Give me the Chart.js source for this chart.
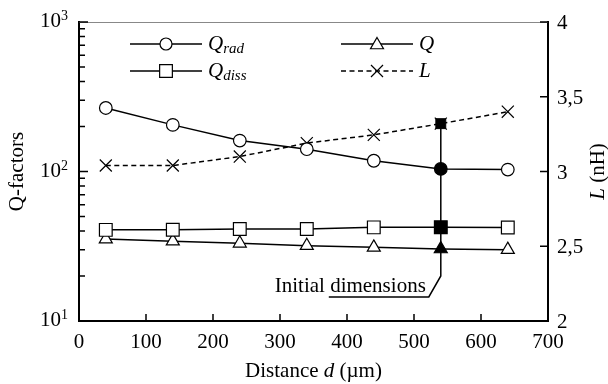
<!DOCTYPE html>
<html>
<head>
<meta charset="utf-8">
<script src="https://cdn.jsdelivr.net/npm/chart.js@4"></script>
<style>
  html, body { margin: 0; padding: 0; background: #fff; }
</style>
</head>
<body>
<canvas id="qChart" width="608" height="384"></canvas>
<script>
// data
var distances = [40, 140, 240, 340, 440, 540, 640];
var qRad = [266, 205, 161, 141, 118, 104, 103];
var qDiss = [40.7, 40.8, 41.2, 41.2, 42.3, 42.4, 42.2];
var qTotal = [35.3, 34.2, 33.1, 31.9, 31.1, 30.3, 30.0];
var inductance = [3.04, 3.04, 3.10, 3.19, 3.245, 3.32, 3.40];
var initialIndex = 5; // the "initial dimensions" design

var xTicks = [0, 100, 200, 300, 400, 500, 600, 700];
var qMajorTicks = [10, 100, 1000];
var qExponents = ['1', '2', '3'];
var lTicks = [2, 2.5, 3, 3.5, 4];
var lTickLabels = ['2', '2,5', '3', '3,5', '4'];

var serif = '"Liberation Serif", "DejaVu Serif", serif';

function pts(ys) {
    return distances.map(function (d, i) { return { x: d, y: ys[i] }; });
}
function fills(n) {
    return distances.map(function (d, i) { return i === n ? '#000' : '#fff'; });
}

var qMinorTicks = [];
qMajorTicks.slice(0, -1).forEach(function (p) {
    for (var k = 2; k <= 9; k++) qMinorTicks.push(p * k);
});

var decor = {
    id: 'decor',
    beforeDatasetsDraw: function (chart) {
        var ctx = chart.ctx, a = chart.chartArea;
        var x = chart.scales.x, y = chart.scales.y, y1 = chart.scales.y1;
        ctx.save();
        // top frame line
        ctx.strokeStyle = '#888';
        ctx.lineWidth = 1;
        ctx.beginPath();
        ctx.moveTo(a.left, a.top + 0.5);
        ctx.lineTo(a.right, a.top + 0.5);
        ctx.stroke();
        // initial dimensions leader
        var xp = x.getPixelForValue(distances[initialIndex]);
        var yTop = y1.getPixelForValue(inductance[initialIndex]);
        var yBot = y.getPixelForValue(20);
        ctx.strokeStyle = '#000';
        ctx.lineWidth = 1.5;
        ctx.beginPath();
        ctx.moveTo(xp, yTop);
        ctx.lineTo(xp, yBot);
        ctx.lineTo(xp - 12, yBot + 21);
        ctx.lineTo(xp - 112, yBot + 21);
        ctx.stroke();
        ctx.fillStyle = '#000';
        ctx.font = '21px ' + serif;
        ctx.textAlign = 'right';
        ctx.textBaseline = 'alphabetic';
        ctx.fillText('Initial dimensions', xp - 15, yBot + 16);
        ctx.restore();
    },
    afterDraw: function (chart) {
        var ctx = chart.ctx, a = chart.chartArea;
        var x = chart.scales.x, y = chart.scales.y, y1 = chart.scales.y1;
        ctx.save();
        ctx.strokeStyle = '#000';
        ctx.fillStyle = '#000';
        ctx.lineWidth = 1.5;
        // inward ticks
        ctx.beginPath();
        xTicks.forEach(function (v) {
            var p = x.getPixelForValue(v);
            ctx.moveTo(p, a.bottom); ctx.lineTo(p, a.bottom - 7);
        });
        qMajorTicks.forEach(function (v) {
            var p = y.getPixelForValue(v);
            ctx.moveTo(a.left, p); ctx.lineTo(a.left + 9, p);
        });
        qMinorTicks.forEach(function (v) {
            var p = y.getPixelForValue(v);
            ctx.moveTo(a.left, p); ctx.lineTo(a.left + 6, p);
        });
        lTicks.forEach(function (v) {
            var p = y1.getPixelForValue(v);
            ctx.moveTo(a.right, p); ctx.lineTo(a.right - 8, p);
        });
        ctx.stroke();

        // tick labels
        ctx.font = '21px ' + serif;
        ctx.textBaseline = 'alphabetic';
        ctx.textAlign = 'center';
        xTicks.forEach(function (v) {
            ctx.fillText(String(v), x.getPixelForValue(v), a.bottom + 27);
        });
        qMajorTicks.forEach(function (v, i) {
            var p = y.getPixelForValue(v);
            ctx.font = '14px ' + serif;
            ctx.textAlign = 'left';
            ctx.fillText(qExponents[i], a.left - 18, p - 2);
            ctx.font = '21px ' + serif;
            ctx.textAlign = 'right';
            ctx.fillText('10', a.left - 18, p + 5);
        });
        ctx.textAlign = 'left';
        lTicks.forEach(function (v, i) {
            ctx.fillText(lTickLabels[i], a.right + 9, y1.getPixelForValue(v) + 7);
        });

        // axis titles
        var cy = (a.top + a.bottom) / 2;
        var cx = (a.left + a.right) / 2;
        ctx.textAlign = 'left';
        var t1 = 'Distance ', t2 = 'd', t3 = ' (\u00b5m)';
        ctx.font = '21px ' + serif;
        var w1 = ctx.measureText(t1).width, w3 = ctx.measureText(t3).width;
        ctx.font = 'italic 21px ' + serif;
        var w2 = ctx.measureText(t2).width;
        var sx = cx - (w1 + w2 + w3) / 2;
        ctx.font = '21px ' + serif;
        ctx.fillText(t1, sx, 377);
        ctx.font = 'italic 21px ' + serif;
        ctx.fillText(t2, sx + w1, 377);
        ctx.font = '21px ' + serif;
        ctx.fillText(t3, sx + w1 + w2, 377);

        ctx.save();
        ctx.translate(23, cy);
        ctx.rotate(-Math.PI / 2);
        ctx.textAlign = 'center';
        ctx.font = '21px ' + serif;
        ctx.fillText('Q-factors', 0, 0);
        ctx.restore();

        ctx.save();
        ctx.translate(604, cy);
        ctx.rotate(-Math.PI / 2);
        ctx.font = 'italic 21px ' + serif;
        var lw = ctx.measureText('L').width;
        ctx.font = '21px ' + serif;
        var rw = ctx.measureText(' (nH)').width;
        ctx.font = 'italic 21px ' + serif;
        ctx.textAlign = 'left';
        ctx.fillText('L', -(lw + rw) / 2, 0);
        ctx.font = '21px ' + serif;
        ctx.fillText(' (nH)', -(lw + rw) / 2 + lw, 0);
        ctx.restore();

        // legend
        var rows = [a.top + 22, a.top + 49];
        var cols = [a.left + 51, a.left + 262];
        var items = [
            { c: 0, r: 0, style: 'circle', radius: 6, dash: [], name: 'Q', sub: 'rad' },
            { c: 0, r: 1, style: 'rect', radius: 9, dash: [], name: 'Q', sub: 'diss' },
            { c: 1, r: 0, style: 'triangle', radius: 7.5, dash: [], name: 'Q', sub: '' },
            { c: 1, r: 1, style: 'crossRot', radius: 8.5, dash: [5, 3.5], name: 'L', sub: '' }
        ];
        items.forEach(function (it) {
            var lx = cols[it.c], ly = rows[it.r];
            ctx.setLineDash(it.dash);
            ctx.lineWidth = 1.5;
            ctx.beginPath();
            ctx.moveTo(lx, ly); ctx.lineTo(lx + 72, ly);
            ctx.stroke();
            ctx.setLineDash([]);
            ctx.fillStyle = '#fff';
            ctx.lineWidth = 1.2;
            Chart.helpers.drawPoint(ctx, { pointStyle: it.style, radius: it.radius, rotation: 0, borderWidth: 1.2 }, lx + 36, ly + (it.style === 'triangle' ? 1 : 0));
            ctx.fillStyle = '#000';
            ctx.font = 'italic 21px ' + serif;
            ctx.textAlign = 'left';
            ctx.fillText(it.name, lx + 78, ly + 6);
            if (it.sub) {
                var nw = ctx.measureText(it.name).width;
                ctx.font = 'italic 15px ' + serif;
                ctx.fillText(it.sub, lx + 78 + nw, ly + 9);
            }
        });
        ctx.restore();
    }
};

var ctx = document.getElementById('qChart').getContext('2d');
var qChart = new Chart(ctx, {
    type: 'line',
    data: {
        datasets: [{
            label: 'initial L',
            data: [{ x: distances[initialIndex], y: inductance[initialIndex] }],
            yAxisID: 'y1',
            showLine: false,
            pointStyle: 'rect',
            pointRadius: 7,
            pointBackgroundColor: '#000',
            pointBorderColor: '#000',
            pointBorderWidth: 1
        }, {
            label: 'Q_rad',
            data: pts(qRad),
            yAxisID: 'y',
            borderColor: '#000',
            borderWidth: 1.5,
            pointStyle: 'circle',
            pointRadius: 6.3,
            pointBorderWidth: 1.2,
            pointBorderColor: '#000',
            pointBackgroundColor: fills(initialIndex)
        }, {
            label: 'Q_diss',
            data: pts(qDiss),
            yAxisID: 'y',
            borderColor: '#000',
            borderWidth: 1.5,
            pointStyle: 'rect',
            pointRadius: 9,
            pointBorderWidth: 1.2,
            pointBorderColor: '#000',
            pointBackgroundColor: fills(initialIndex)
        }, {
            label: 'Q',
            data: pts(qTotal),
            yAxisID: 'y',
            borderColor: '#000',
            borderWidth: 1.5,
            pointStyle: 'triangle',
            pointRadius: 7.5,
            pointBorderWidth: 1.2,
            pointBorderColor: '#000',
            pointBackgroundColor: fills(initialIndex)
        }, {
            label: 'L',
            data: pts(inductance),
            yAxisID: 'y1',
            borderColor: '#000',
            borderWidth: 1.5,
            borderDash: [5, 3.5],
            pointStyle: 'crossRot',
            pointRadius: 8.5,
            pointBorderWidth: 1.2,
            pointBorderColor: '#000'
        }]
    },
    options: {
        responsive: false,
        animation: false,
        devicePixelRatio: 1,
        layout: { padding: { top: 22, left: 0, right: 0, bottom: 0 } },
        plugins: { legend: { display: false }, tooltip: { enabled: false } },
        elements: { line: { tension: 0 } },
        scales: {
            x: {
                type: 'linear',
                position: 'bottom',
                min: 0,
                max: 700,
                ticks: { display: false },
                grid: { drawOnChartArea: false, drawTicks: false },
                border: { display: true, color: '#000', width: 2 },
                afterFit: function (s) { s.height = 63; }
            },
            y: {
                type: 'logarithmic',
                position: 'left',
                min: 10,
                max: 1000,
                ticks: { display: false },
                grid: { drawOnChartArea: false, drawTicks: false },
                border: { display: true, color: '#000', width: 2 },
                afterFit: function (s) { s.width = 79; }
            },
            y1: {
                type: 'linear',
                position: 'right',
                min: 2,
                max: 4,
                ticks: { display: false },
                grid: { drawOnChartArea: false, drawTicks: false },
                border: { display: true, color: '#000', width: 2 },
                afterFit: function (s) { s.width = 60; }
            }
        }
    },
    plugins: [decor]
});
</script>
</body>
</html>
